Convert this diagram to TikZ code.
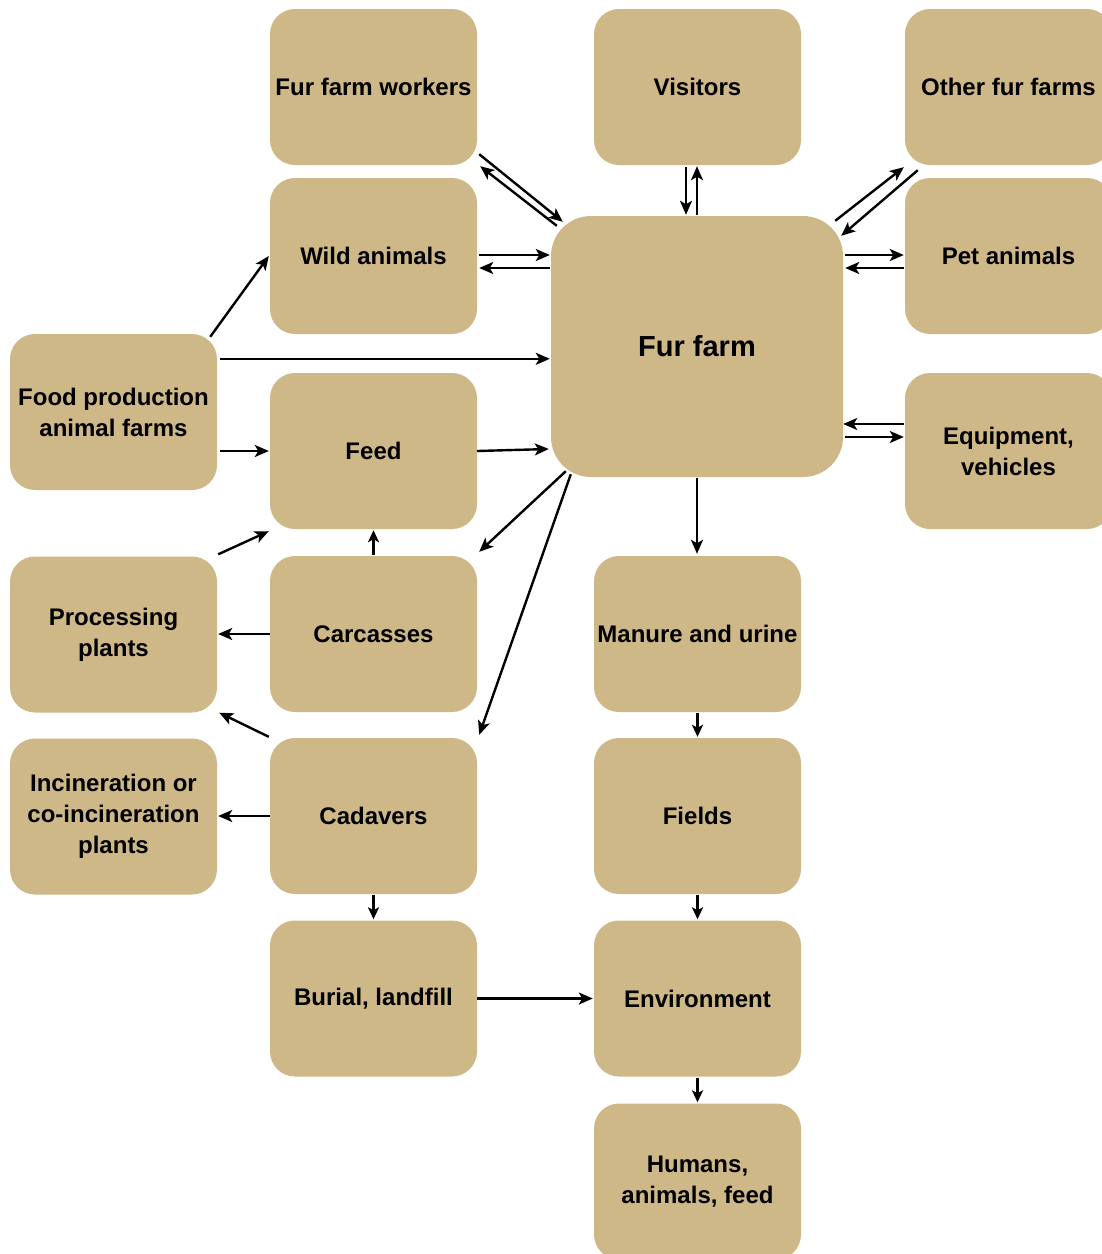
\documentclass[tikz,border=0pt]{standalone}
\usepackage{fontspec}
\setmainfont{Liberation Sans}
\usetikzlibrary{arrows.meta,calc}
\definecolor{boxtan}{RGB}{207,184,135}
\begin{document}
\begin{tikzpicture}[x=1pt,y=-1pt,
  box/.style={fill=boxtan,draw=none,rounded corners=25pt,minimum width=207pt,minimum height=156pt,inner sep=0pt,align=center,font=\fontsize{24}{31}\selectfont\bfseries},
  arr/.style={line width=2.4pt,-{Stealth[length=14pt,width=12pt,inset=3.5pt]}},
  sarr/.style={line width=2.4pt,-{Stealth[length=12pt,width=11pt,inset=3pt]}}]
\useasboundingbox (0,0) rectangle (1102,1254);
% nodes
\node[box] (wk) at (373.5,87) {Fur farm workers};
\node[box] (vis) at (697.5,87) {Visitors};
\node[box] (oth) at (1008.5,87) {Other fur farms};
\node[box] (wild) at (373.5,256) {Wild animals};
\node[box] (pet) at (1008.5,256) {Pet animals};
\node[box,minimum width=292pt,minimum height=261pt,rounded corners=40pt,font=\fontsize{29}{35}\selectfont\bfseries] (fur) at (697,346.5) {Fur farm};
\node[box] (food) at (113.5,412) {Food production\\animal farms};
\node[box] (feed) at (373.5,451) {Feed};
\node[box] (equip) at (1008.5,451) {Equipment,\\vehicles};
\node[box] (proc) at (113.5,634.5) {Processing\\plants};
\node[box] (carc) at (373.5,634) {Carcasses};
\node[box] (man) at (697.5,634) {Manure and urine};
\node[box] (inc) at (113.5,816.5) {Incineration or\\co-incineration\\plants};
\node[box] (cad) at (373.5,816) {Cadavers};
\node[box] (fld) at (697.5,816) {Fields};
\node[box] (bur) at (373.5,998.5) {Burial, landfill};
\node[box] (env) at (697.5,998.5) {Environment};
\node[box] (hum) at (697.5,1181.5) {Humans,\\animals, feed};
% connectors to/from fur farm
\draw[arr] ($(wk.south east)+(2,-11)$) -- ($(fur.north west)+(12,6)$);
\draw[arr] ($(fur.north west)+(6,10)$) -- ($(wk.south east)+(3,1)$);
\draw[arr] ($(vis.south)+(-11.5,2)$) -- ($(fur.north)+(-11,-1)$);
\draw[arr] ($(fur.north)+(0,-1)$) -- ($(vis.south)+(-0.5,1)$);
\draw[arr] ($(fur.north east)+(-8,5)$) -- ($(oth.south west)+(-1,2)$);
\draw[arr] ($(oth.south west)+(13,5)$) -- ($(fur.north east)+(-2,20)$);
\draw[arr] ($(wild.east)+(2,-1)$) -- ($(wild.east -| fur.west)+(-1,-1)$);
\draw[arr] ($(wild.east -| fur.west)+(-1,12)$) -- ($(wild.east)+(2,12)$);
\draw[arr] ($(pet.west -| fur.east)+(2,-1)$) -- ($(pet.west)+(-1,-1)$);
\draw[arr] ($(pet.west)+(-1,12)$) -- ($(pet.west -| fur.east)+(2,12)$);
\draw[arr] ($(equip.west)+(-1,-27)$) -- ($(equip.west -| fur.east)+(0,-27)$);
\draw[arr] ($(equip.west -| fur.east)+(2,-14)$) -- ($(equip.west)+(-1,-14)$);
% food production
\draw[arr] ($(food.north east)+(-7,3)$) -- ($(wild.west)+(-1,0)$);
\draw[arr] ($(food.north east)+(3,25)$) -- ($(food.north east -| fur.west)+(-1,25)$);
\draw[arr] ($(food.east)+(3,39)$) -- ($(feed.west)+(-1,0)$);
\draw[arr] (feed.east) -- ($(feed.east -| fur.west)+(-2,-2)$);
% fur farm downward
\draw[arr] ($(fur.south west)+(15,-6)$) -- ($(carc.north east)+(2,-4)$);
\draw[arr] ($(fur.south west)+(20,-3)$) -- ($(cad.north east)+(2,-3)$);
\draw[sarr] ($(carc.north)+(0,-1)$) -- ($(feed.south)+(0,1)$);
\draw[arr] ($(proc.north east)+(1,-2)$) -- ($(feed.south west)+(-1,2)$);
\draw[arr] (carc.west) -- ($(proc.east)+(1,-0.5)$);
\draw[arr] ($(cad.north west)+(-1,-1)$) -- ($(proc.south east)+(2,0)$);
\draw[arr] (cad.west) -- ($(inc.east)+(1,-0.5)$);
\draw[sarr] ($(cad.south)+(0,1)$) -- ($(bur.north)+(0,-1)$);
\draw[arr] (bur.east) -- ($(env.west)+(-1,0)$);
\draw[arr] ($(fur.south)+(0,1)$) -- ($(fur.south |- man.north)+(0,-2)$);
\draw[sarr] ($(man.south)+(0,1)$) -- ($(fld.north)+(0,-1)$);
\draw[sarr] ($(fld.south)+(0,1)$) -- ($(env.north)+(0,-1)$);
\draw[sarr] ($(env.south)+(0,1)$) -- ($(hum.north)+(0,-1)$);
\end{tikzpicture}
\end{document}
